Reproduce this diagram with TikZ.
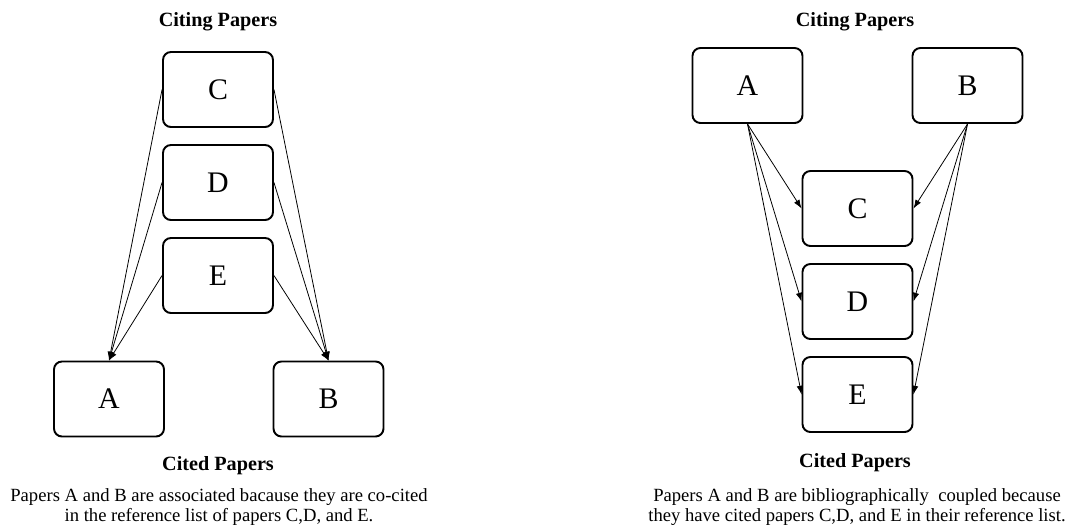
\documentclass[tikz,border=0pt]{standalone}
\usepackage{fontspec}
\setmainfont{Liberation Serif}
\usetikzlibrary{positioning, arrows.meta}

\begin{document}
\begin{tikzpicture}[
  x=0.02cm, y=-0.02cm,
  paper/.style={
    draw=black, rectangle, rounded corners=4.5pt,
    minimum width=2.2cm, minimum height=1.5cm,
    line width=1.1pt, fill=white, inner sep=0pt,
    font=\fontsize{17}{20}\selectfont
  },
  head/.style={font=\bfseries\fontsize{11.5}{13}\selectfont},
  note/.style={align=center, font=\fontsize{10.6}{11.6}\selectfont},
  arr/.style={draw, -{Latex[length=5pt, width=3.6pt]}, line width=0.45pt},
]

\useasboundingbox (0,0) rectangle (1067,529);

%% ====================================================================
%%  LEFT: CO-CITATION
%% ====================================================================
\node[head] (lCiting) at (218, 22) {Citing\ Papers};

\node[paper] (lC) at (218, 89.5)  {C};
\node[paper] (lD) at (218, 182.5) {D};
\node[paper] (lE) at (218, 275.5) {E};

\node[paper] (lA) at (109, 399)   {A};
\node[paper] (lB) at (328.5, 399) {B};

\node[head] (lCited) at (218, 466) {Cited\ Papers};
\node[note] (lNote) at (219, 507)
  {Papers A and B are associated bacause they are co-cited\\
   in the reference list of papers C,D, and E.};

\foreach \p in {lC, lD, lE} {
  \draw[arr] (\p.west) -- (lA.north);
  \draw[arr] (\p.east) -- (lB.north);
}

%% ====================================================================
%%  RIGHT: BIBLIOGRAPHIC COUPLING
%% ====================================================================
\node[head] (rCiting) at (855, 22) {Citing\ Papers};

\node[paper] (rA) at (747.5, 85.5) {A};
\node[paper] (rB) at (967.5, 85.5) {B};

\node[paper] (rC) at (857.5, 208.5) {C};
\node[paper] (rD) at (857.5, 301.5) {D};
\node[paper] (rE) at (857.5, 394.5) {E};

\node[head] (rCited) at (855, 463) {Cited\ Papers};
\node[note] (rNote) at (857, 507)
  {Papers A and B are bibliographically\ \ coupled because\\
   they have cited papers C,D, and E in their reference list.};

\foreach \p in {rC, rD, rE} {
  \draw[arr] (rA.south) -- (\p.west);
  \draw[arr] (rB.south) -- (\p.east);
}

\end{tikzpicture}
\end{document}
